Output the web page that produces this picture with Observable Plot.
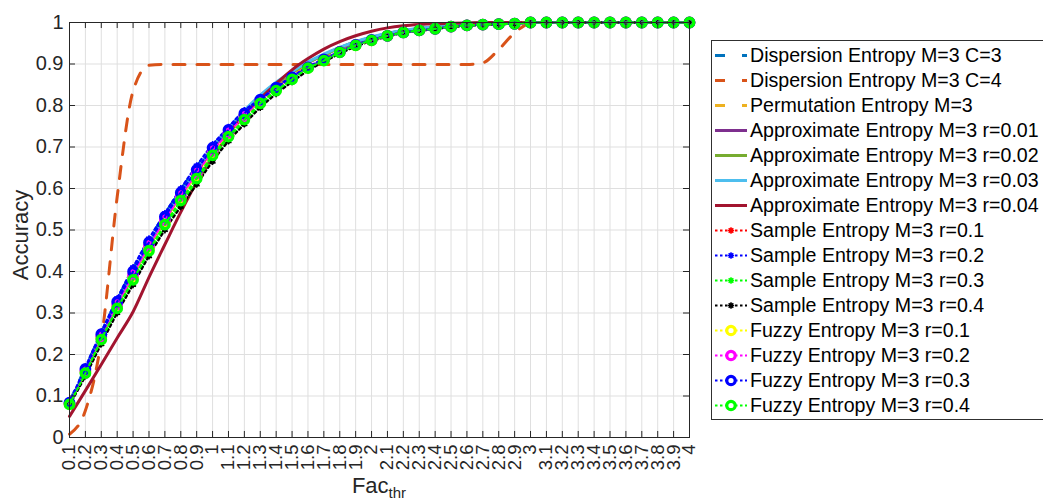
<!DOCTYPE html>
<html><head><meta charset="utf-8">
<script src="https://cdn.jsdelivr.net/npm/d3@7"></script>
<script src="https://cdn.jsdelivr.net/npm/@observablehq/plot@0.6"></script>
<style>
body{margin:0;background:#fff;}
#wrap{position:relative;width:1043px;height:503px;overflow:hidden;font-family:"Liberation Sans",Arial,Helvetica,sans-serif;}
#legend{position:absolute;left:711px;top:40px;width:345px;height:376px;border:1px solid #303030;background:#fff;padding-top:2px;}
.row{height:25px;display:flex;align-items:center;font-size:19.6px;color:#000;white-space:nowrap;}
.row svg{flex:none;}
</style></head><body><div id="wrap"></div><script>
// x values (Fac_thr)
const facThr = [0.1,0.2,0.3,0.4,0.5,0.6,0.7,0.8,0.9,1.0,1.1,1.2,1.3,1.4,1.5,1.6,1.7,1.8,1.9,2.0,2.1,2.2,2.3,2.4,2.5,2.6,2.7,2.8,2.9,3.0,3.1,3.2,3.3,3.4,3.5,3.6,3.7,3.8,3.9,4.0];
const xTickValues = [0.1,0.2,0.3,0.4,0.5,0.6,0.7,0.8,0.9,1,1.1,1.2,1.3,1.4,1.5,1.6,1.7,1.8,1.9,2,2.1,2.2,2.3,2.4,2.5,2.6,2.7,2.8,2.9,3,3.1,3.2,3.3,3.4,3.5,3.6,3.7,3.8,3.9,4];
const yTickValues = [0,0.1,0.2,0.3,0.4,0.5,0.6,0.7,0.8,0.9,1];

const dispC3 = [0.086,0.168,0.252,0.332,0.406,0.476,0.538,0.597,0.652,0.703,0.746,0.786,0.818,0.848,0.873,0.896,0.915,0.932,0.948,0.960,0.970,0.978,0.983,0.987,0.991,0.994,0.996,0.997,0.998,1,1,1,1,1,1,1,1,1,1,1];
const dispC4 = [0.008,0.065,0.235,0.580,0.835,0.897,0.899,0.899,0.899,0.899,0.899,0.899,0.899,0.899,0.899,0.899,0.899,0.899,0.899,0.899,0.899,0.899,0.899,0.899,0.899,0.899,0.903,0.935,0.975,0.998,1,1,1,1,1,1,1,1,1,1];
const permM3 = [0.082,0.160,0.242,0.320,0.392,0.462,0.526,0.585,0.640,0.694,0.740,0.781,0.817,0.847,0.873,0.897,0.916,0.933,0.949,0.960,0.970,0.978,0.983,0.987,0.991,0.994,0.996,0.997,0.998,1,1,1,1,1,1,1,1,1,1,1];
const apen001 = [0.081,0.158,0.240,0.318,0.391,0.461,0.525,0.585,0.641,0.696,0.743,0.785,0.822,0.853,0.880,0.903,0.922,0.939,0.953,0.964,0.973,0.980,0.985,0.989,0.992,0.995,0.997,0.998,0.999,1,1,1,1,1,1,1,1,1,1,1];
const apen002 = [0.082,0.159,0.241,0.319,0.392,0.462,0.526,0.586,0.642,0.697,0.744,0.786,0.823,0.854,0.880,0.903,0.922,0.939,0.953,0.964,0.973,0.980,0.985,0.989,0.992,0.995,0.997,0.998,0.999,1,1,1,1,1,1,1,1,1,1,1];
const apen003 = [0.083,0.161,0.243,0.321,0.394,0.464,0.528,0.588,0.644,0.699,0.746,0.788,0.825,0.856,0.882,0.905,0.924,0.940,0.954,0.965,0.974,0.981,0.986,0.990,0.993,0.995,0.997,0.998,0.999,1,1,1,1,1,1,1,1,1,1,1];
const apen004 = [0.051,0.113,0.176,0.240,0.303,0.386,0.465,0.543,0.615,0.675,0.730,0.777,0.817,0.853,0.886,0.913,0.936,0.954,0.968,0.979,0.987,0.992,0.995,0.997,0.998,0.999,1,1,1,1,1,1,1,1,1,1,1,1,1,1];
const samp01 = [0.082,0.160,0.242,0.318,0.390,0.460,0.522,0.580,0.634,0.688,0.733,0.774,0.810,0.840,0.867,0.892,0.910,0.929,0.945,0.957,0.968,0.976,0.981,0.985,0.990,0.993,0.995,0.996,0.997,1,1,1,1,1,1,1,1,1,1,1];
const samp02 = [0.085,0.170,0.255,0.335,0.410,0.479,0.540,0.600,0.655,0.706,0.748,0.788,0.815,0.845,0.870,0.893,0.912,0.930,0.946,0.958,0.968,0.976,0.981,0.985,0.990,0.993,0.995,0.996,0.997,1,1,1,1,1,1,1,1,1,1,1];
const samp03 = [0.079,0.152,0.230,0.305,0.374,0.443,0.506,0.563,0.617,0.672,0.719,0.760,0.800,0.832,0.860,0.887,0.906,0.926,0.944,0.956,0.967,0.975,0.980,0.985,0.989,0.992,0.995,0.996,0.997,1,1,1,1,1,1,1,1,1,1,1];
const samp04 = [0.078,0.148,0.225,0.300,0.368,0.437,0.500,0.556,0.610,0.665,0.714,0.755,0.795,0.828,0.857,0.884,0.905,0.925,0.942,0.955,0.966,0.975,0.980,0.984,0.989,0.992,0.994,0.996,0.997,1,1,1,1,1,1,1,1,1,1,1];
const fuzzy01 = [0.081,0.158,0.240,0.315,0.386,0.456,0.518,0.577,0.630,0.685,0.730,0.771,0.808,0.838,0.865,0.891,0.909,0.929,0.945,0.957,0.968,0.976,0.981,0.985,0.990,0.993,0.995,0.996,0.997,1,1,1,1,1,1,1,1,1,1,1];
const fuzzy02 = [0.082,0.160,0.243,0.320,0.392,0.462,0.524,0.582,0.636,0.690,0.734,0.774,0.811,0.841,0.867,0.892,0.910,0.929,0.946,0.957,0.968,0.976,0.981,0.985,0.990,0.993,0.995,0.996,0.997,1,1,1,1,1,1,1,1,1,1,1];
const fuzzy03 = [0.084,0.165,0.249,0.327,0.400,0.470,0.532,0.590,0.645,0.698,0.741,0.781,0.814,0.843,0.868,0.892,0.911,0.929,0.946,0.958,0.968,0.976,0.981,0.985,0.990,0.993,0.995,0.996,0.997,1,1,1,1,1,1,1,1,1,1,1];
const fuzzy04 = [0.080,0.155,0.236,0.311,0.380,0.450,0.513,0.571,0.624,0.680,0.725,0.766,0.805,0.836,0.863,0.890,0.908,0.928,0.945,0.957,0.968,0.976,0.981,0.985,0.990,0.993,0.995,0.996,0.997,1,1,1,1,1,1,1,1,1,1,1];

const seriesNames = ["Dispersion Entropy M=3 C=3","Dispersion Entropy M=3 C=4","Permutation Entropy M=3",
  "Approximate Entropy M=3 r=0.01","Approximate Entropy M=3 r=0.02","Approximate Entropy M=3 r=0.03","Approximate Entropy M=3 r=0.04",
  "Sample Entropy M=3 r=0.1","Sample Entropy M=3 r=0.2","Sample Entropy M=3 r=0.3","Sample Entropy M=3 r=0.4",
  "Fuzzy Entropy M=3 r=0.1","Fuzzy Entropy M=3 r=0.2","Fuzzy Entropy M=3 r=0.3","Fuzzy Entropy M=3 r=0.4"];
const seriesValues = [dispC3,dispC4,permM3,apen001,apen002,apen003,apen004,samp01,samp02,samp03,samp04,fuzzy01,fuzzy02,fuzzy03,fuzzy04];
const seriesColors = ["#0072BD","#D95319","#EDB120","#7E2F8E","#77AC30","#4DBEEE","#A2142F",
  "#FF0000","#0000FF","#00FF00","#000000","#FFFF00","#FF00FF","#0000FF","#00FF00"];
const seriesKinds = ["dash","dash","dash","solid","solid","solid","solid","sample","sample","sample","sample","fuzzy","fuzzy","fuzzy","fuzzy"];

const seriesMarks = [];
seriesNames.forEach((name, k) => {
  const rows = facThr.map((x, i) => ({x, y: seriesValues[k][i], name}));
  const color = seriesColors[k], kind = seriesKinds[k];
  if (kind === "dash") {
    seriesMarks.push(Plot.line(rows, {x: "x", y: "y", stroke: color, strokeWidth: 3, strokeDasharray: "12,12", curve: "monotone-x"}));
  } else if (kind === "solid") {
    seriesMarks.push(Plot.line(rows, {x: "x", y: "y", stroke: color, strokeWidth: 3, curve: "monotone-x"}));
  } else if (kind === "sample") {
    seriesMarks.push(Plot.line(rows, {x: "x", y: "y", stroke: color, strokeWidth: 2.2, strokeDasharray: "2.5,3", curve: "monotone-x"}));
    seriesMarks.push(Plot.dot(rows, {x: "x", y: "y", r: 2.2, fill: color, stroke: color, strokeWidth: 1}));
    seriesMarks.push(Plot.dot(rows, {x: "x", y: "y", symbol: "asterisk", r: 3.2, stroke: color, strokeWidth: 1.5}));
  } else {
    seriesMarks.push(Plot.line(rows, {x: "x", y: "y", stroke: color, strokeWidth: 2.2, strokeDasharray: "2.5,3", curve: "monotone-x"}));
    seriesMarks.push(Plot.dot(rows, {x: "x", y: "y", r: 4.2, fill: "none", stroke: color, strokeWidth: 3.4}));
  }
});

const tickLenX = 0.0145, tickLenY = 0.0377;
const fmt = d => String(+(+d).toFixed(1));

const chart = Plot.plot({
  width: 1043, height: 503,
  marginLeft: 69, marginRight: 354, marginTop: 22, marginBottom: 66,
  style: {fontFamily: '"Liberation Sans", Arial, Helvetica, sans-serif', color: "#262626", background: "#fff", overflow: "visible"},
  x: {type: "linear", domain: [0.1, 4]},
  y: {type: "linear", domain: [0, 1]},
  marks: [
    Plot.gridX(xTickValues, {stroke: "#dfdfdf", strokeOpacity: 1, strokeWidth: 1}),
    Plot.gridY(yTickValues, {stroke: "#dfdfdf", strokeOpacity: 1, strokeWidth: 1}),
    ...seriesMarks,
    Plot.ruleX(xTickValues, {x: d => d, y1: 0, y2: tickLenX, stroke: "#262626"}),
    Plot.ruleX(xTickValues, {x: d => d, y1: 1, y2: 1 - tickLenX, stroke: "#262626"}),
    Plot.ruleY(yTickValues, {y: d => d, x1: 0.1, x2: 0.1 + tickLenY, stroke: "#262626"}),
    Plot.ruleY(yTickValues, {y: d => d, x1: 4, x2: 4 - tickLenY, stroke: "#262626"}),
    Plot.frame({stroke: "#262626", strokeWidth: 1}),
    Plot.axisX(xTickValues, {tickSize: 0, tickPadding: 7, tickRotate: -90, tickFormat: fmt, fontSize: 18.5, label: null, fill: "#262626"}),
    Plot.axisY(yTickValues, {tickSize: 0, tickPadding: 6, tickFormat: fmt, fontSize: 20, label: null, fill: "#262626"}),
    Plot.text(["Accuracy"], {x: 0.1, y: 0.5, dx: -49, dy: 5, rotate: -90, fontSize: 22, fill: "#262626", text: d => d})
  ]
});

// x-axis title with subscript
const xt = d3.select(chart).append("text")
  .attr("x", 379).attr("y", 493).attr("text-anchor", "middle")
  .attr("font-size", 22).attr("fill", "#262626");
xt.append("tspan").text("Fac");
xt.append("tspan").attr("font-size", 15).attr("dy", 5).text("thr");

const wrap = document.getElementById("wrap");
wrap.appendChild(chart);

// legend
const legend = document.createElement("div");
legend.id = "legend";
seriesNames.forEach((name, k) => {
  const row = document.createElement("div");
  row.className = "row";
  const color = seriesColors[k], kind = seriesKinds[k];
  let sw = `<svg width="38" height="25" viewBox="0 0 38 25">`;
  if (kind === "dash") sw += `<line x1="3" x2="35" y1="12.5" y2="12.5" stroke="${color}" stroke-width="3" stroke-dasharray="10,17"/>`;
  else if (kind === "solid") sw += `<line x1="3" x2="35" y1="12.5" y2="12.5" stroke="${color}" stroke-width="3"/>`;
  else if (kind === "sample") sw += `<line x1="3" x2="35" y1="12.5" y2="12.5" stroke="${color}" stroke-width="2.2" stroke-dasharray="2.5,2.5"/><circle cx="19" cy="12.5" r="2.3" fill="${color}"/><path d="M15.8,12.5H22.2M19,9.3V15.7M16.7,10.2L21.3,14.8M16.7,14.8L21.3,10.2" stroke="${color}" stroke-width="1.5"/>`;
  else sw += `<line x1="3" x2="35" y1="12.5" y2="12.5" stroke="${color}" stroke-width="2.2" stroke-dasharray="2.5,2.5"/><circle cx="19" cy="12.5" r="4.2" fill="#fff" stroke="${color}" stroke-width="3.2"/>`;
  sw += `</svg>`;
  row.innerHTML = sw + `<span>${name}</span>`;
  legend.appendChild(row);
});
wrap.appendChild(legend);
</script></body></html>
